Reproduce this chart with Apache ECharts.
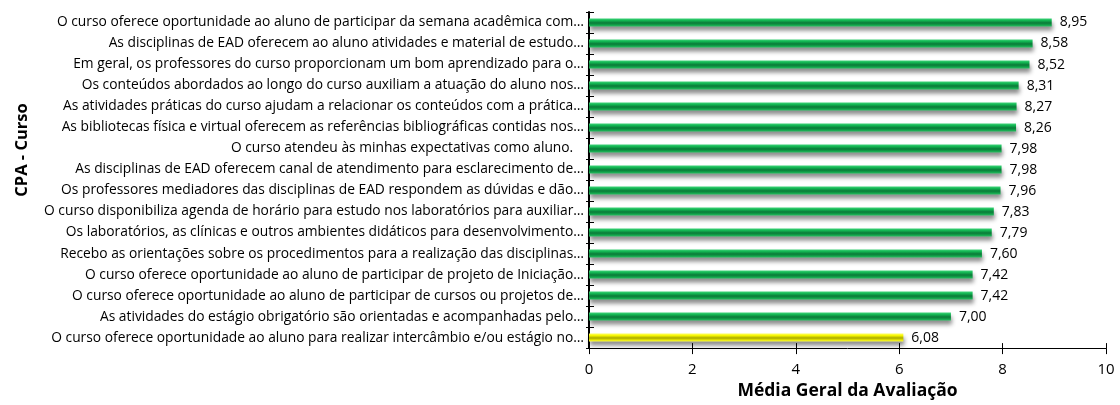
<!DOCTYPE html>
<html>
<head>
<meta charset="utf-8">
<script src="https://cdn.jsdelivr.net/npm/echarts@6/dist/echarts.min.js"></script>
<style>html,body{margin:0;padding:0;background:#fff}#c{width:1120px;height:405px}</style>
</head>
<body>
<div id="c"></div>
<script>
const categories = [
  "O curso oferece oportunidade ao aluno de participar da semana acadêmica com…",
  "As disciplinas de EAD oferecem ao aluno atividades e material de estudo…",
  "Em geral, os professores do curso proporcionam um bom aprendizado para o…",
  "Os conteúdos abordados ao longo do curso auxiliam a atuação do aluno nos…",
  "As atividades práticas do curso ajudam a relacionar os conteúdos com a prática…",
  "As bibliotecas física e virtual oferecem as referências bibliográficas contidas nos…",
  "O curso atendeu às minhas expectativas como aluno.   ",
  "As disciplinas de EAD oferecem canal de atendimento para esclarecimento de…",
  "Os professores mediadores das disciplinas de EAD respondem as dúvidas e dão…",
  "O curso disponibiliza agenda de horário para estudo nos laboratórios para auxiliar…",
  "Os laboratórios, as clínicas e outros ambientes didáticos para desenvolvimento…",
  "Recebo as orientações sobre os procedimentos para a realização das disciplinas…",
  "O curso oferece oportunidade ao aluno de participar de projeto de Iniciação…",
  "O curso oferece oportunidade ao aluno de participar de cursos ou projetos de…",
  "As atividades do estágio obrigatório são orientadas e acompanhadas pelo…",
  "O curso oferece oportunidade ao aluno para realizar intercâmbio e/ou estágio no…"
];
const values = [8.95, 8.58, 8.52, 8.31, 8.27, 8.26, 7.98, 7.98, 7.96, 7.83, 7.79, 7.60, 7.42, 7.42, 7.00, 6.08];
const xTitle = "Média Geral da Avaliação";
const yTitle = "CPA - Curso";
const lowThreshold = 7;

const greenGrad = {type:'linear',x:0,y:0,x2:0,y2:1,colorStops:[
  {offset:0,color:'#3fd47a'},{offset:0.25,color:'#12b552'},{offset:0.55,color:'#0a7a38'},{offset:0.8,color:'#10a048'},{offset:1,color:'#2cc466'}]};
const yellowGrad = {type:'linear',x:0,y:0,x2:0,y2:1,colorStops:[
  {offset:0,color:'#ffff66'},{offset:0.25,color:'#f5f500'},{offset:0.55,color:'#a8a800'},{offset:0.8,color:'#e8e800'},{offset:1,color:'#ffff55'}]};

const chart = echarts.init(document.getElementById('c'));
const font = '"Open Sans", "Noto Sans", sans-serif';
chart.setOption({
  animation:false,
  textStyle:{fontFamily:font},
  grid:{left:589,right:14,top:12,bottom:54,containLabel:false},
  graphic:[{
    type:'text',x:22,y:150,rotation:Math.PI/2,
    style:{text:yTitle,fontSize:16.5,fontWeight:'bold',fill:'#000',fontFamily:font,align:'center',verticalAlign:'middle'}
  }],
  xAxis:[{
    type:'value',min:0,max:10,interval:2,
    axisLine:{show:true,lineStyle:{color:'#000',width:1}},
    axisTick:{show:true,length:6,lineStyle:{color:'#000'}},
    axisLabel:{fontSize:15,color:'#000',margin:14,fontFamily:font},
    splitLine:{show:false},
    name:xTitle,nameLocation:'middle',nameGap:32,
    nameTextStyle:{fontSize:17.5,fontWeight:'bold',color:'#000',fontFamily:font}
  },{
    type:'value',min:0,max:10,interval:2,position:'bottom',
    axisLine:{show:false},axisTick:{show:true,inside:true,length:5,lineStyle:{color:'#000'}},
    axisLabel:{show:false},splitLine:{show:false}
  }],
  yAxis:[{
    type:'category',data:categories,inverse:true,
    axisLine:{show:true,lineStyle:{color:'#000',width:2}},
    axisTick:{show:true,length:3,lineStyle:{color:'#000'}},
    axisLabel:{fontSize:13.8,color:'#000',margin:5,fontFamily:font}
  },{
    type:'category',data:categories,inverse:true,position:'left',
    axisLine:{show:false},axisTick:{show:true,inside:true,length:5,lineStyle:{color:'#000'}},
    axisLabel:{show:false}
  }],
  series:[{
    type:'bar',
    data:values.map(v=>({value:v,itemStyle:{color: v<lowThreshold?yellowGrad:greenGrad}})),
    barWidth:8,
    itemStyle:{shadowBlur:4,shadowOffsetY:4,shadowOffsetX:1,shadowColor:'rgba(0,0,0,0.45)'},
    label:{show:true,position:'right',distance:8,fontSize:14,color:'#000',fontFamily:font,
      formatter:p=>p.value.toFixed(2).replace('.',',')}
  }]
});
</script>
</body>
</html>
